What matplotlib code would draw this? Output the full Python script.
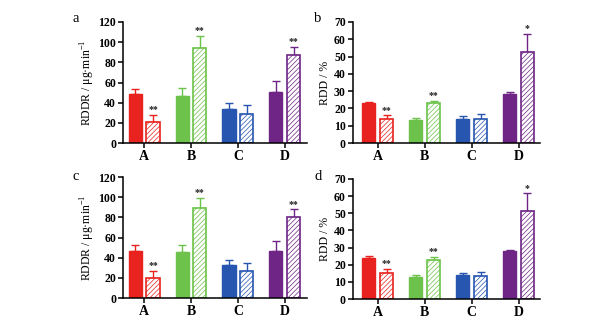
import matplotlib
matplotlib.use("Agg")
import matplotlib.pyplot as plt
import numpy as np

plt.rcParams['font.family'] = ['Liberation Serif', 'DejaVu Serif']
plt.rcParams['mathtext.fontset'] = 'custom'
plt.rcParams['mathtext.rm'] = 'Liberation Serif'
plt.rcParams['hatch.linewidth'] = 0.5

groups = ["A", "B", "C", "D"]
colors = ["#e8221e", "#6cc24a", "#2656b0", "#6e2585"]

# panel a: RDDR
a_ctrl = [48.8, 47.1, 34.0, 50.7]
a_ctrl_err = [4.9, 7.6, 5.5, 10.9]
a_trt = [20.4, 94.6, 29.3, 87.0]
a_trt_err = [7.6, 11.8, 8.9, 8.6]
a_sig = ["**", "**", "", "**"]

# panel b: RDD
b_ctrl = [23.1, 13.3, 14.0, 28.5]
b_ctrl_err = [0.9, 1.1, 1.4, 1.3]
b_trt = [14.2, 23.1, 14.2, 52.9]
b_trt_err = [1.8, 1.3, 2.5, 10.2]
b_sig = ["**", "**", "", "*"]

# panel c: RDDR
c_ctrl = [47.0, 45.6, 32.4, 47.0]
c_ctrl_err = [6.0, 6.7, 5.3, 9.2]
c_trt = [20.2, 89.2, 26.5, 80.3]
c_trt_err = [7.0, 10.0, 7.9, 7.7]
c_sig = ["**", "**", "", "**"]

# panel d: RDD
d_ctrl = [23.9, 12.6, 13.8, 27.8]
d_ctrl_err = [1.0, 1.2, 1.2, 1.0]
d_trt = [15.2, 23.0, 13.2, 51.2]
d_trt_err = [2.3, 1.5, 2.6, 10.5]
d_sig = ["**", "**", "", "*"]

fig = plt.figure(figsize=(5.97, 3.23), dpi=100)

rddr_label = "RDDR / μg·min$^{\\mathregular{-1}}$"
panels = [
    ("a", [0.206, 0.557, 0.308, 0.375], a_ctrl, a_ctrl_err, a_trt, a_trt_err, a_sig,
     120, 20, rddr_label, (-0.45, 3.47), (76, 18), 1.0),
    ("b", [0.591, 0.557, 0.313, 0.375], b_ctrl, b_ctrl_err, b_trt, b_trt_err, b_sig,
     70, 10, "RDD / %", (-0.53, 3.45), (318, 18), 2.0),
    ("c", [0.206, 0.077, 0.308, 0.375], c_ctrl, c_ctrl_err, c_trt, c_trt_err, c_sig,
     120, 20, rddr_label, (-0.45, 3.47), (76, 176), 1.0),
    ("d", [0.591, 0.074, 0.313, 0.372], d_ctrl, d_ctrl_err, d_trt, d_trt_err, d_sig,
     70, 10, "RDD / %", (-0.53, 3.45), (318, 176), 2.0),
]

x = np.arange(len(groups))
w = 0.28
off = 0.19

for letter, rect, ctrl, ctrl_err, trt, trt_err, sig, ymax, ystep, ylabel, xlim, lpos, lpad in panels:
    ax = fig.add_axes(rect)
    for i in range(len(groups)):
        c = colors[i]
        ax.bar(x[i] - off, ctrl[i], w, color=c, edgecolor=c, linewidth=1.0, zorder=2)
        ax.errorbar(x[i] - off, ctrl[i], yerr=[[0], [ctrl_err[i]]], color=c,
                    capsize=3, elinewidth=1.0, capthick=1.0, fmt="none", zorder=1)
        ax.bar(x[i] + off, trt[i], w, facecolor="white", edgecolor=c, hatch="///////",
               linewidth=1.2, zorder=2)
        ax.errorbar(x[i] + off, trt[i], yerr=[[0], [trt_err[i]]], color=c,
                    capsize=3, elinewidth=1.0, capthick=1.0, fmt="none", zorder=1)
        if sig[i]:
            ax.text(x[i] + off, trt[i] + trt_err[i] + ymax * 0.005, sig[i],
                    ha="center", va="bottom", fontsize=7, fontweight="bold", color="#222222")
    ax.set_xlim(*xlim)
    ax.set_ylim(0, ymax)
    ax.set_yticks(np.arange(0, ymax + 1, ystep))
    ax.set_xticks(x)
    ax.set_xticklabels(groups, fontsize=10, fontweight="bold")
    for t in ax.get_yticklabels():
        t.set_fontweight("bold")
        t.set_fontsize(8.5)
    ax.spines["top"].set_visible(False)
    ax.spines["right"].set_visible(False)
    ax.spines["left"].set_linewidth(1.1)
    ax.spines["bottom"].set_linewidth(1.1)
    ax.tick_params(axis="both", direction="out", length=3.5, width=1.1, pad=1.5)
    ax.set_ylabel(ylabel, fontsize=8.5, labelpad=lpad)
    fig.text(lpos[0] / 597, 1 - lpos[1] / 323, letter, fontsize=10.5,
             ha="center", va="center")

fig.savefig("out.png", dpi=100)
